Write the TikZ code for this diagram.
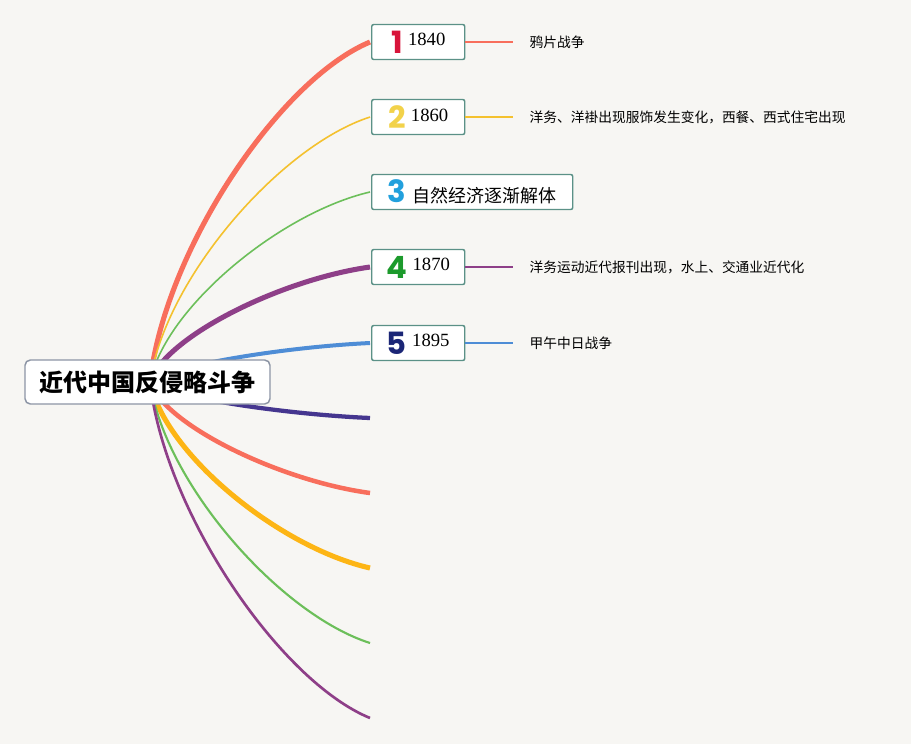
\documentclass[tikz,border=0pt]{standalone}
\usepackage{fontspec}
\setmainfont{Liberation Serif}
\newfontfamily\cjk{Noto Sans CJK SC}
\newfontfamily\numfont{Poppins}
\usepackage{tikz}
\usetikzlibrary{positioning}

\definecolor{paper}{HTML}{F7F6F3}
\definecolor{rootline}{HTML}{8D95A5}
\definecolor{boxline}{HTML}{5B9187}
\definecolor{brRed}{HTML}{F86E5C}
\definecolor{brYellow}{HTML}{F4C12E}
\definecolor{brGreen}{HTML}{6CBF5A}
\definecolor{brPurple}{HTML}{8E3F88}
\definecolor{brBlue}{HTML}{4E8DD6}
\definecolor{brIndigo}{HTML}{45368F}
\definecolor{brOrange}{HTML}{FDB515}
\definecolor{numA}{HTML}{D8143A}
\definecolor{numB}{HTML}{F2D24A}
\definecolor{numC}{HTML}{22A0DD}
\definecolor{numD}{HTML}{1C9A2C}
\definecolor{numE}{HTML}{1B2676}

\newcommand\bignum[2]{{\numfont\bfseries\color{#1}\fontsize{23}{23}\selectfont #2}}
\newcommand\yearmark[3]{\bignum{#1}{#2}\hspace{4pt}\raisebox{5.5pt}{\fontsize{14}{14}\selectfont #3}}

\begin{document}
\begin{tikzpicture}[
    x=0.75pt, y=-0.75pt,
    topic/.style={draw=rootline, fill=white, line width=1.1pt, rounded corners=4pt, minimum width=183.75pt, minimum height=33pt, inner sep=0pt, font=\cjk\bfseries\fontsize{18}{20}\selectfont},
    box/.style={draw=boxline, fill=white, line width=1.1pt, rounded corners=1.5pt, minimum width=69.75pt, minimum height=26.25pt, inner sep=0pt, anchor=west},
    leaf/.style={inner xsep=12pt, inner ysep=2pt, font=\cjk\fontsize{10.3}{12}\selectfont},
    twig/.style={line width=0.8pt},
]

% canvas
\fill[paper] (0,0) rectangle (911,744);
\useasboundingbox (0,0) rectangle (911,744);

% branch ends
\coordinate (hub) at (150,382);
\foreach \ye [count=\i] in {42,117,192,267,343,418,493,568,643,718}
    \coordinate (e\i) at (370,\ye);

% branches
\foreach \ye/\col/\lw [count=\i] in {42/brRed/3.8, 117/brYellow/1.2, 192/brGreen/1.2, 267/brPurple/3.8, 343/brBlue/3,
        418/brIndigo/3.2, 493/brRed/3.4, 568/brOrange/3.8, 643/brGreen/1.6, 718/brPurple/2}{
    \pgfmathsetmacro\ya{382+0.39*(\ye-382)}
    \pgfmathsetmacro\yb{\ye-0.11*(\ye-382)}
    \draw[\col, line width=\lw pt] (hub) .. controls (165,\ya) and (280,\yb) .. (e\i);
}

% central topic
\node[topic] (root) at (147.5,382) {近代中国反侵略斗争};

% numbered topics
\node[box] (b1) at ([xshift=0.75pt]e1) {\yearmark{numA}{1}{1840}};
\node[box] (b2) at ([xshift=0.75pt]e2) {\yearmark{numB}{2}{1860}};
\node[box, minimum width=150.75pt] (b3) at ([xshift=0.75pt]e3) {\bignum{numC}{3}\hspace{5pt}{\cjk\fontsize{13.5}{15}\selectfont 自然经济逐渐解体}};
\node[box] (b4) at ([xshift=0.75pt]e4) {\yearmark{numD}{4}{1870}};
\node[box] (b5) at ([xshift=0.75pt]e5) {\yearmark{numE}{5}{1895}};

% details
\node[leaf, right=36pt of b1] (l1) {鸦片战争};
\node[leaf, right=36pt of b2] (l2) {洋务、洋褂出现服饰发生变化，西餐、西式住宅出现};
\node[leaf, right=36pt of b4] (l4) {洋务运动近代报刊出现，水上、交通业近代化};
\node[leaf, right=36pt of b5] (l5) {甲午中日战争};

\draw[twig, brRed] (b1) -- (l1);
\draw[twig, brYellow] (b2) -- (l2);
\draw[twig, brPurple] (b4) -- (l4);
\draw[twig, brBlue] (b5) -- (l5);

\end{tikzpicture}
\end{document}
